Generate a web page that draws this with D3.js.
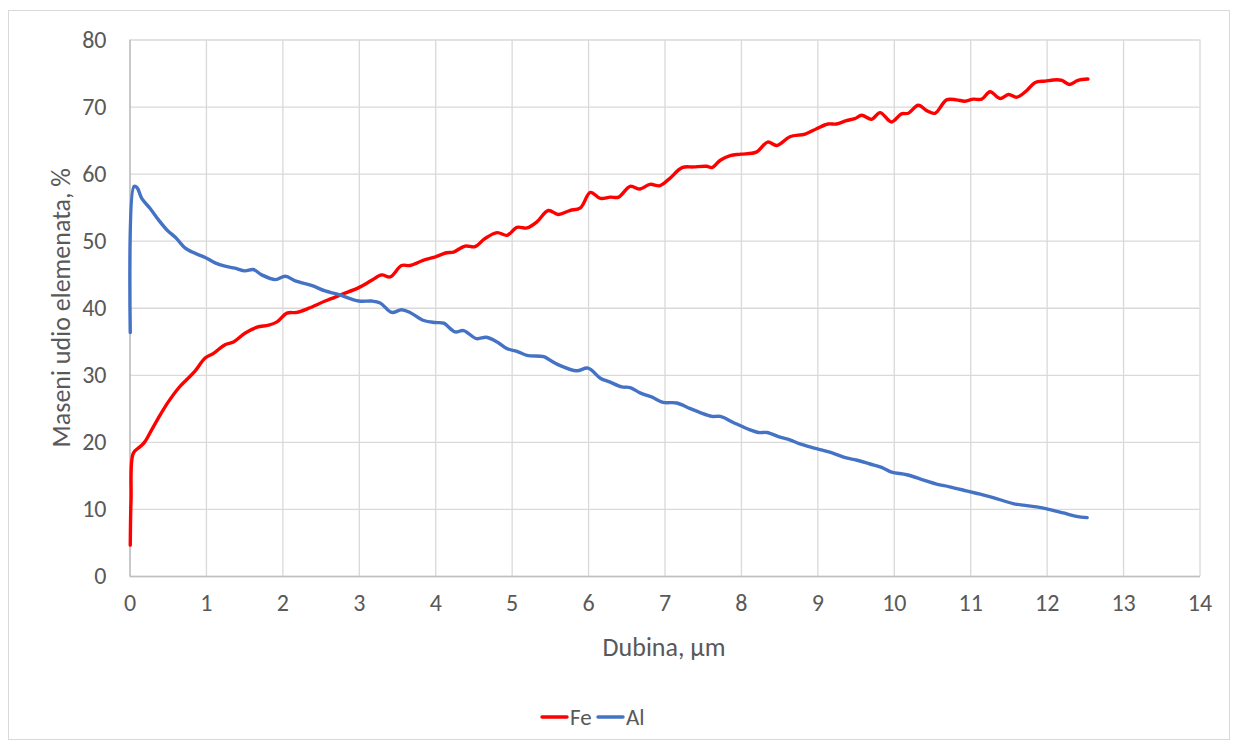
<!DOCTYPE html>
<html>
<head>
<meta charset="utf-8">
<script src="https://cdn.jsdelivr.net/npm/d3@7"></script>
<style>
    body { margin: 0; background: #fff; }
    .chart text { font-family: Carlito, Calibri, "Open Sans", sans-serif; fill: #595959; }
</style>
</head>
<body>
<div class="chart"></div>
<script>
// depth (um) and mass fraction (%)
var feDepth = [0.01, 0.02, 0.05, 0.14, 0.2, 0.29, 0.4, 0.51, 0.64, 0.75, 0.86, 0.99, 1.1, 1.25, 1.36, 1.51, 1.67, 1.82, 1.93,
    2.06, 2.19, 2.34, 2.56, 2.78, 3.0, 3.17, 3.3, 3.41, 3.56, 3.67, 3.85, 3.98, 4.15, 4.24, 4.39, 4.52, 4.65, 4.81, 4.94,
    5.07, 5.2, 5.33, 5.48, 5.61, 5.76, 5.9, 6.03, 6.16, 6.29, 6.4, 6.55, 6.68, 6.81, 6.94, 7.07, 7.23, 7.38, 7.55, 7.62,
    7.73, 7.86, 8.0, 8.2, 8.35, 8.47, 8.64, 8.84, 8.99, 9.14, 9.25, 9.38, 9.49, 9.58, 9.71, 9.82, 9.97, 10.1, 10.19, 10.32,
    10.43, 10.54, 10.69, 10.82, 10.93, 11.04, 11.15, 11.26, 11.39, 11.5, 11.61, 11.74, 11.85, 11.98, 12.13, 12.2, 12.3,
    12.41, 12.54];
var feValue = [4.6, 11.3, 18.3, 19.3, 20.0, 21.8, 24.0, 26.0, 28.0, 29.3, 30.6, 32.5, 33.2, 34.5, 34.9, 36.2, 37.1, 37.4, 37.9,
    39.2, 39.3, 39.9, 41.0, 42.0, 43.0, 44.1, 44.9, 44.6, 46.3, 46.3, 47.1, 47.5, 48.2, 48.3, 49.2, 49.1, 50.3, 51.2, 50.8,
    52.0, 51.9, 52.8, 54.5, 53.9, 54.5, 54.9, 57.2, 56.3, 56.5, 56.5, 58.1, 57.7, 58.4, 58.2, 59.3, 60.9, 61.0, 61.1, 60.9,
    62.0, 62.7, 62.9, 63.2, 64.7, 64.2, 65.5, 65.9, 66.7, 67.4, 67.4, 67.9, 68.2, 68.7, 68.1, 69.1, 67.7, 68.9, 69.0, 70.2,
    69.4, 69.0, 71.0, 71.0, 70.8, 71.1, 71.1, 72.2, 71.2, 71.8, 71.4, 72.4, 73.6, 73.8, 74.0, 73.9, 73.3,
    73.9, 74.1];

var alDepth = [0.01, 0.06, 0.1, 0.16, 0.27, 0.38, 0.49, 0.6, 0.73, 0.82, 0.99, 1.12, 1.25, 1.38, 1.51, 1.62, 1.73, 1.91,
    2.04, 2.17, 2.39, 2.56, 2.73, 3.0, 3.17, 3.28, 3.43, 3.56, 3.67, 3.85, 4.0, 4.11, 4.26, 4.37, 4.54, 4.67, 4.81, 4.94,
    5.07, 5.2, 5.42, 5.5, 5.63, 5.85, 6.0, 6.16, 6.29, 6.44, 6.55, 6.68, 6.83, 6.98, 7.16, 7.33, 7.46, 7.62, 7.73, 7.9,
    8.12, 8.23, 8.34, 8.51, 8.64, 8.77, 8.99, 9.21, 9.38, 9.51, 9.69, 9.84, 9.97, 10.17, 10.39, 10.56, 10.73, 10.95,
    11.13, 11.3, 11.56, 11.74, 11.87, 12.04, 12.22, 12.39, 12.53];
var alValue = [36.3, 58.1, 57.9, 56.3, 54.8, 53.1, 51.6, 50.5, 48.9, 48.3, 47.5, 46.7, 46.2, 45.9, 45.5, 45.7, 44.9, 44.2,
    44.7, 44.0, 43.3, 42.5, 42.0, 41.0, 41.0, 40.7, 39.3, 39.7, 39.3, 38.1, 37.8, 37.7, 36.4, 36.6, 35.4, 35.6, 34.9, 33.9,
    33.5, 32.9, 32.7, 32.2, 31.4, 30.6, 31.0, 29.5, 28.9, 28.2, 28.1, 27.3, 26.7, 25.9, 25.8, 25.0, 24.4, 23.8, 23.8, 22.9,
    21.8, 21.4, 21.4, 20.7, 20.3, 19.7, 19.0, 18.3, 17.6, 17.3, 16.7, 16.2, 15.5, 15.1, 14.3, 13.7, 13.3, 12.7,
    12.2, 11.7, 10.8, 10.5, 10.3, 9.9, 9.4, 8.9, 8.7];

var xTicks = d3.range(0, 15, 1);
var yTicks = d3.range(0, 90, 10);

var seriesNames = ["Fe", "Al"];
var seriesColors = ["#ff0000", "#4472c4"];

var width = 1239, height = 749;
var margin = { left: 129.5, right: 39.5, top: 39.5, bottom: 173 };

var svg = d3.select('.chart')
    .append('svg')
    .attr('width', width)
    .attr('height', height);

// chart area frame
svg.append('rect')
    .attr('x', 8.5).attr('y', 10.5)
    .attr('width', 1221).attr('height', 729)
    .attr('fill', '#fff')
    .attr('stroke', '#d9d9d9');

var x = d3.scaleLinear().domain([0, 14]).range([margin.left, width - margin.right]);
var y = d3.scaleLinear().domain([0, 80]).range([height - margin.bottom, margin.top]);

// grid
svg.append('g')
    .attr('transform', 'translate(0,' + y(0) + ')')
    .call(d3.axisBottom(x).tickValues(xTicks).tickSize(-(y(0) - y(80))).tickFormat(''))
    .call(function (g) {
        g.select('.domain').remove();
        g.selectAll('line').attr('stroke', '#d9d9d9').attr('stroke-width', 1.3);
    });

svg.append('g')
    .attr('transform', 'translate(' + x(0) + ',0)')
    .call(d3.axisLeft(y).tickValues(yTicks).tickSize(-(x(14) - x(0))).tickFormat(''))
    .call(function (g) {
        g.select('.domain').remove();
        g.selectAll('line').attr('stroke', '#d9d9d9').attr('stroke-width', 1.3);
    });

// axes with labels
var xAxis = svg.append('g')
    .attr('transform', 'translate(0,' + y(0) + ')')
    .call(d3.axisBottom(x).tickValues(xTicks).tickSize(0).tickPadding(18));
xAxis.select('.domain').attr('stroke', '#bfbfbf').attr('stroke-width', 1.5);
xAxis.selectAll('text').attr('font-size', 24).style('fill', '#595959');

var yAxis = svg.append('g')
    .attr('transform', 'translate(' + x(0) + ',0)')
    .call(d3.axisLeft(y).tickValues(yTicks).tickSize(0).tickPadding(23));
yAxis.select('.domain').attr('stroke', '#bfbfbf').attr('stroke-width', 1.5);
yAxis.selectAll('text').attr('font-size', 24).style('fill', '#595959');
svg.selectAll('.tick text').attr('font-family', 'Carlito, Calibri, "Open Sans", sans-serif');

// axis titles
svg.append('text')
    .attr('x', 664)
    .attr('y', 656)
    .attr('text-anchor', 'middle')
    .attr('font-size', 26)
    .text('Dubina, µm');

svg.append('text')
    .attr('transform', 'translate(70,' + (y(0) + y(80)) / 2 + ') rotate(-90)')
    .attr('text-anchor', 'middle')
    .attr('font-size', 26)
    .text('Maseni udio elemenata, %');

// lines
var line = d3.line()
    .x(function (d) { return x(d[0]); })
    .y(function (d) { return y(d[1]); })
    .curve(d3.curveCatmullRom.alpha(0.5));

var series = [
    d3.zip(feDepth, feValue),
    d3.zip(alDepth, alValue)
];

svg.selectAll('.series')
    .data(series)
    .enter()
    .append('path')
    .attr('class', 'series')
    .attr('d', line)
    .attr('fill', 'none')
    .attr('stroke', function (d, i) { return seriesColors[i]; })
    .attr('stroke-width', 3.4)
    .attr('stroke-linejoin', 'round')
    .attr('stroke-linecap', 'round');

// legend
var legend = svg.append('g').attr('transform', 'translate(542,717)');
var item = legend.selectAll('g')
    .data(seriesNames)
    .enter()
    .append('g')
    .attr('transform', function (d, i) { return 'translate(' + (i * 56) + ',0)'; });

item.append('line')
    .attr('x1', 0).attr('x2', 25)
    .attr('stroke', function (d, i) { return seriesColors[i]; })
    .attr('stroke-width', 3.4)
    .attr('stroke-linecap', 'round');

item.append('text')
    .attr('x', 28)
    .attr('y', 8)
    .attr('font-size', 23)
    .text(function (d) { return d; });
</script>
</body>
</html>
